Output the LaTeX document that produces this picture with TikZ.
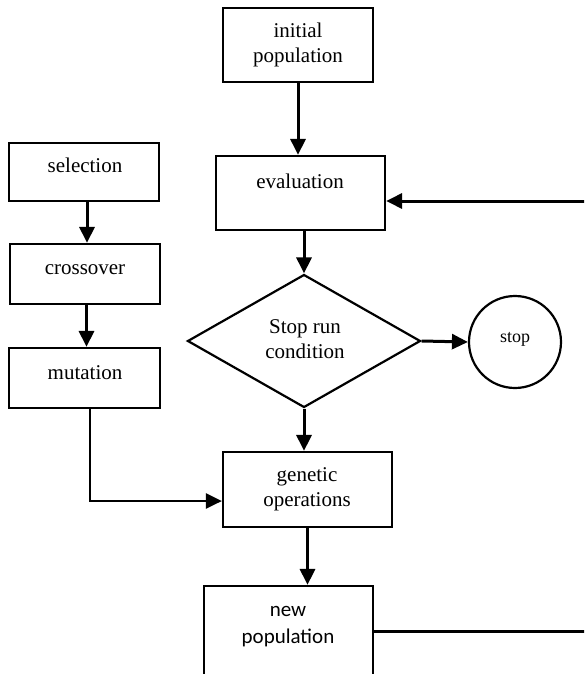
\documentclass[tikz,border=0pt]{standalone}
\usepackage{fontspec}
\setmainfont{Liberation Serif}
\newfontfamily\calibrifont{Carlito}
\usetikzlibrary{shapes.geometric,arrows.meta}
\begin{document}
\begin{tikzpicture}[x=1pt,y=-1pt,
  box/.style={draw, line width=2.2pt, inner sep=0pt, rectangle},
  txt/.style={font=\fontsize{21}{25}\selectfont, align=center, inner sep=0pt},
  arr/.style={line width=3pt, -{Triangle[length=16pt,width=15pt]}},
]
\useasboundingbox (0,0) rectangle (584,674);
\clip (0,0) rectangle (584,674);
\fill[white] (0,0) rectangle (584,674);

% boxes
\node[box, minimum width=150pt, minimum height=74pt] (init) at (298,45) {};
\node[box, minimum width=150pt, minimum height=58pt] (sel) at (84,172) {};
\node[box, minimum width=150pt, minimum height=60pt] (cross) at (85,274) {};
\node[box, minimum width=151pt, minimum height=60pt] (mut) at (84.5,378) {};
\node[box, minimum width=169pt, minimum height=74pt] (eval) at (300.5,193) {};
\node[draw, line width=2.2pt, diamond, inner sep=0pt, minimum width=233pt, minimum height=133pt] (dia) at (304,341) {};
\node[draw, line width=2.2pt, circle, inner sep=0pt, minimum size=92pt] (stopc) at (515,342) {};
\node[box, minimum width=169pt, minimum height=75pt] (gen) at (307.5,489.5) {};
\node[box, minimum width=169pt, minimum height=90pt] (new) at (288.5,631) {};

% texts
\node[txt] (tinit) at (298,45) {initial\\population};
\node[txt] (tsel) at (85,165) {selection};
\node[txt] (tcross) at (85,270) {crossover};
\node[txt] (tmut) at (85,373) {mutation};
\node[txt] (teval) at (300,181) {evaluation};
\node[txt] (tdia) at (305,339) {Stop run\\condition};
\node[txt, font=\fontsize{18}{22}\selectfont] (tstop) at (515,339) {stop};
\node[txt] (tgen) at (307,489.5) {genetic\\operations};
\node[txt, font=\calibrifont\fontsize{21}{27}\selectfont] (tnew) at (288,626.5) {new\\population};

% connectors
\draw[arr] (init.south) -- (init.south |- eval.north);
\draw[arr] (dia.north |- eval.south) -- (dia.north);
\draw[arr] (dia.south) -- (dia.south |- gen.north);
\draw[arr] (gen.south) -- (gen.south |- new.north);
\draw[arr] (dia.east) -- (stopc.west);
\draw[arr] ([xshift=3pt]sel.south) -- ([xshift=3pt]sel.south |- cross.north);
\draw[arr] ([xshift=1.5pt]cross.south) -- ([xshift=1.5pt]cross.south |- mut.north);
\draw[arr, line width=2.6pt] ([xshift=5.5pt]mut.south) |- ([yshift=-11.5pt]gen.west);
\coordinate (loopR) at (592,201);
\draw[arr] (new.east) -| (loopR) -- (loopR -| eval.east);
\end{tikzpicture}
\end{document}
